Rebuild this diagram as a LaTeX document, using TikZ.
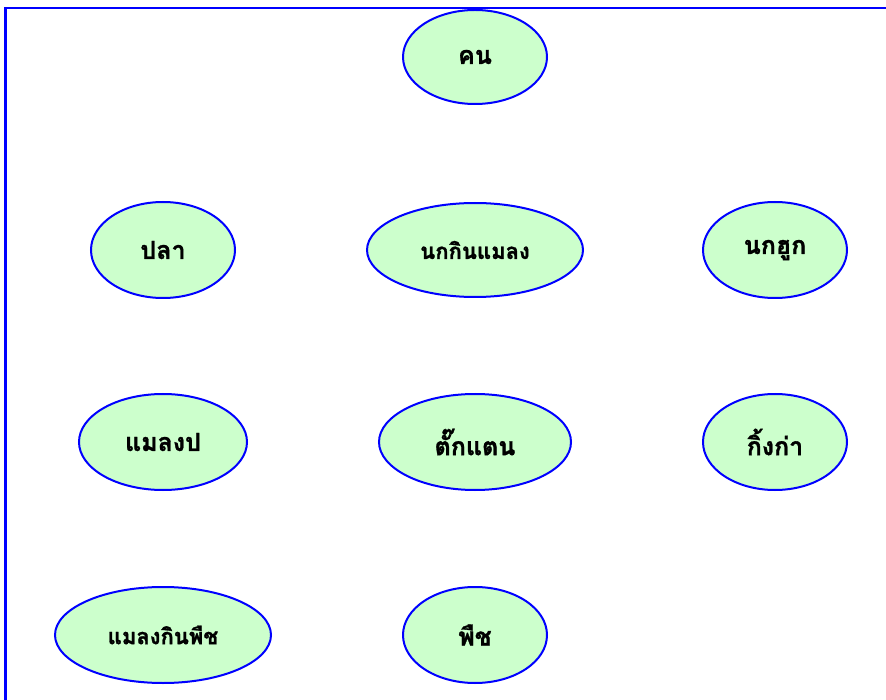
\documentclass[tikz,border=0pt]{standalone}
\usepackage{fontspec}
\newfontfamily\thaifont[Script=Thai,BoldFeatures={FakeBold=1.2}]{Loma}
\usetikzlibrary{shapes.geometric}
\definecolor{nodegreen}{HTML}{CCFFCC}
\tikzset{
  ov/.style={ellipse, draw=blue, line width=2pt, fill=nodegreen, inner sep=0pt,
    font=\thaifont\bfseries\fontsize{25}{29}\selectfont, text=black},
  small/.style={font=\thaifont\bfseries\fontsize{22}{26}\selectfont}
}
\begin{document}
\begin{tikzpicture}[x=1pt,y=-1pt]
\useasboundingbox (0,0) rectangle (886,700);
\draw[blue, line width=2.2pt] (5.5,720) -- (5.5,8) -- (900,8);
\node[ov, minimum width=144pt, minimum height=94pt] (kon) at (475,57) {คน};
\node[ov, minimum width=144pt, minimum height=96pt] (pla) at (163,250) {ปลา};
\node[ov, small, minimum width=216pt, minimum height=94pt] (nok) at (475,250) {นกกินแมลง};
\node[ov, minimum width=144pt, minimum height=96pt] (nokhuk) at (775,250) {นกฮูก};
\node[ov, minimum width=168pt, minimum height=96pt] (malaengpo) at (163,442) {แมลงป};
\node[ov, minimum width=192pt, minimum height=96pt] (tak) at (475,442) {ตั๊กแตน};
\node[ov, minimum width=144pt, minimum height=96pt] (king) at (775,442) {กิ้งก่า};
\node[ov, small, minimum width=216pt, minimum height=96pt] (malaeng) at (163,635) {แมลงกินพืช};
\node[ov, minimum width=144pt, minimum height=96pt] (puet) at (475,635) {พืช};
\end{tikzpicture}
\end{document}
